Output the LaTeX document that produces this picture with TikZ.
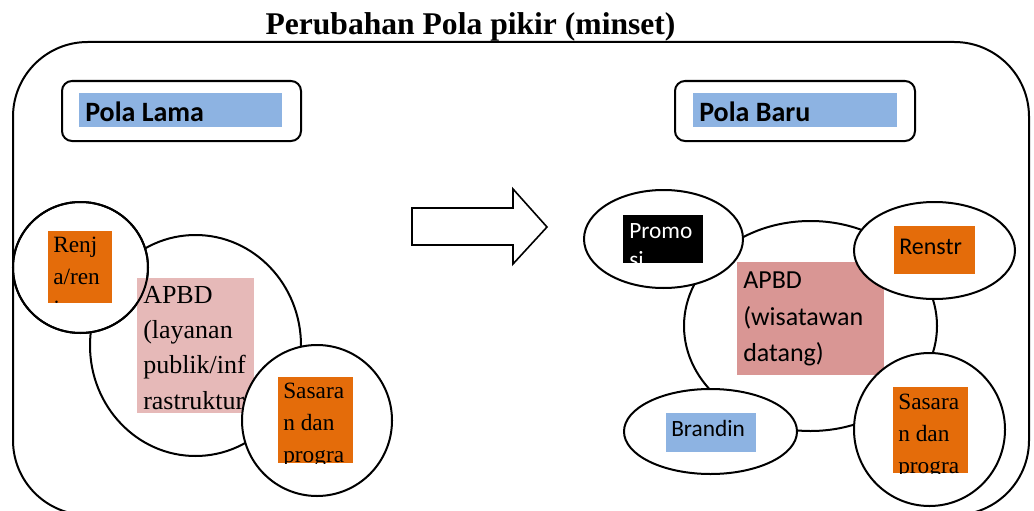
\documentclass[tikz,border=0pt]{standalone}
\usepackage{fontspec}
\setmainfont{Liberation Serif}
\newfontfamily\calibri{Carlito}
\usetikzlibrary{shapes.geometric}
\definecolor{orng}{HTML}{E46C0A}
\definecolor{pinkA}{HTML}{E6B9B8}
\definecolor{pinkB}{HTML}{D99694}
\definecolor{blueB}{HTML}{8DB3E2}
\tikzset{
  blob/.style={ellipse, draw, line width=1.5pt, fill=white, inner sep=0pt},
  frame/.style={draw, line width=1.5pt},
  ttxt/.style={anchor=base west, inner sep=0pt, font=\fontsize{17.5}{21}\selectfont},
  ttxtL/.style={anchor=base west, inner sep=0pt, font=\fontsize{19.5}{23}\selectfont},
  ctxt/.style={anchor=base west, inner sep=0pt, font=\calibri\fontsize{17.5}{21}\selectfont},
  ctxtL/.style={anchor=base west, inner sep=0pt, font=\calibri\fontsize{19.5}{23}\selectfont},
  htxt/.style={anchor=base west, inner sep=0pt, font=\calibri\bfseries\fontsize{21}{25}\selectfont},
}
\begin{document}
\begin{tikzpicture}[x=0.75pt,y=-0.75pt]
\useasboundingbox (0,0) rectangle (1034,510);
\clip (0,0) rectangle (1034,510);
% outer frame
\draw[frame, rounded corners=56pt] (13,42) rectangle (1029,515);
% title
\node[anchor=base, inner sep=0pt, font=\bfseries\fontsize{23.7}{28}\selectfont] (title) at (470.5,35) {Perubahan Pola pikir (minset)};
% header boxes
\draw[frame, rounded corners=7.5pt] (62,81) rectangle (301,141);
\fill[blueB] (79,93) rectangle (282,127);
\node[htxt] (lama) at (85,121) {Pola Lama};
\draw[frame, rounded corners=7.5pt] (675,81) rectangle (915,141);
\fill[blueB] (693,93) rectangle (897,127);
\node[htxt] (baru) at (699,121) {Pola Baru};
% arrow
\draw[line width=1.2pt, line join=miter] (412,208) -- (513,208) -- (513,189) -- (547,227) -- (513,264) -- (513,245) -- (412,245) -- cycle;

% ---------- left side ----------
\node[blob, minimum width={211*0.75pt}, minimum height={221*0.75pt}] (apbdL) at (195.5,345.5) {};
\node[blob, minimum width={135*0.75pt}, minimum height={131*0.75pt}] (renjaC) at (80.5,267.5) {};
\fill[orng] (48,231) rectangle (112,303);
\begin{scope}
\clip (48,231) rectangle (112,303);
\node[ttxt] (renja1) at (53,252) {Renj};
\node[ttxt] (renja2) at (53,284) {a/ren};
\node[ttxt] (renja3) at (53,316) {ja};
\end{scope}
\fill[pinkA] (137,278) rectangle (254,413);
\begin{scope}
\clip (137,278) rectangle (254,413);
\node[ttxtL] (apL1) at (143,303) {APBD};
\node[ttxtL] (apL2) at (143,338) {(layanan};
\node[ttxtL] (apL3) at (143,373) {publik/inf};
\node[ttxtL] (apL4) at (143,409) {rastruktur};
\end{scope}
\draw[line width=1.5pt] (renjaC.center) ellipse [x radius=67.5, y radius=65.5];
\node[blob, minimum width={150*0.75pt}, minimum height={151*0.75pt}] (sasL) at (317,420.5) {};
\fill[orng] (278,377) rectangle (353,463);
\begin{scope}
\clip (278,377) rectangle (353,463);
\node[ttxt] (sasL1) at (283,398) {Sasara};
\node[ttxt] (sasL2) at (283,430) {n dan};
\node[ttxt] (sasL3) at (283,462) {progra};
\end{scope}

% ---------- right side ----------
\node[blob, minimum width={253*0.75pt}, minimum height={210*0.75pt}] (apbdR) at (810.5,326) {};
\fill[pinkB] (737,262) rectangle (884,375);
\node[ctxtL] (apR1) at (743,288) {APBD};
\node[ctxtL] (apR2) at (743,325) {(wisatawan};
\node[ctxtL] (apR3) at (743,361) {datang)};
% promosi
\node[blob, minimum width={159*0.75pt}, minimum height={98*0.75pt}] (promC) at (663.5,239) {};
\fill[black] (623,215) rectangle (703,263);
\begin{scope}
\clip (623,215) rectangle (703,263);
\node[ctxt, text=white] (prom1) at (629,238) {Promo};
\node[ctxt, text=white] (prom2) at (629,267) {si};
\end{scope}
% renstra
\node[blob, minimum width={161*0.75pt}, minimum height={97*0.75pt}] (renC) at (934.5,250.5) {};
\fill[orng] (894,226) rectangle (975,274);
\begin{scope}
\clip (894,226) rectangle (975,274);
\node[ctxt, font=\calibri\fontsize{18}{21}\selectfont] (ren1) at (899,254) {Renstr};
\end{scope}
% branding
\node[blob, minimum width={173*0.75pt}, minimum height={85*0.75pt}] (brC) at (710.5,431.5) {};
\fill[blueB] (666,413) rectangle (756,452);
\begin{scope}
\clip (666,413) rectangle (756,452);
\node[ctxt] (br1) at (671,436) {Brandin};
\end{scope}
% sasaran right
\node[blob, minimum width={151*0.75pt}, minimum height={153*0.75pt}] (sasR) at (929.5,429.5) {};
\fill[orng] (893,387) rectangle (968,473);
\begin{scope}
\clip (893,387) rectangle (968,473);
\node[ttxt] (sasR1) at (898,409) {Sasara};
\node[ttxt] (sasR2) at (898,441) {n dan};
\node[ttxt] (sasR3) at (898,473) {progra};
\end{scope}
\end{tikzpicture}
\end{document}
